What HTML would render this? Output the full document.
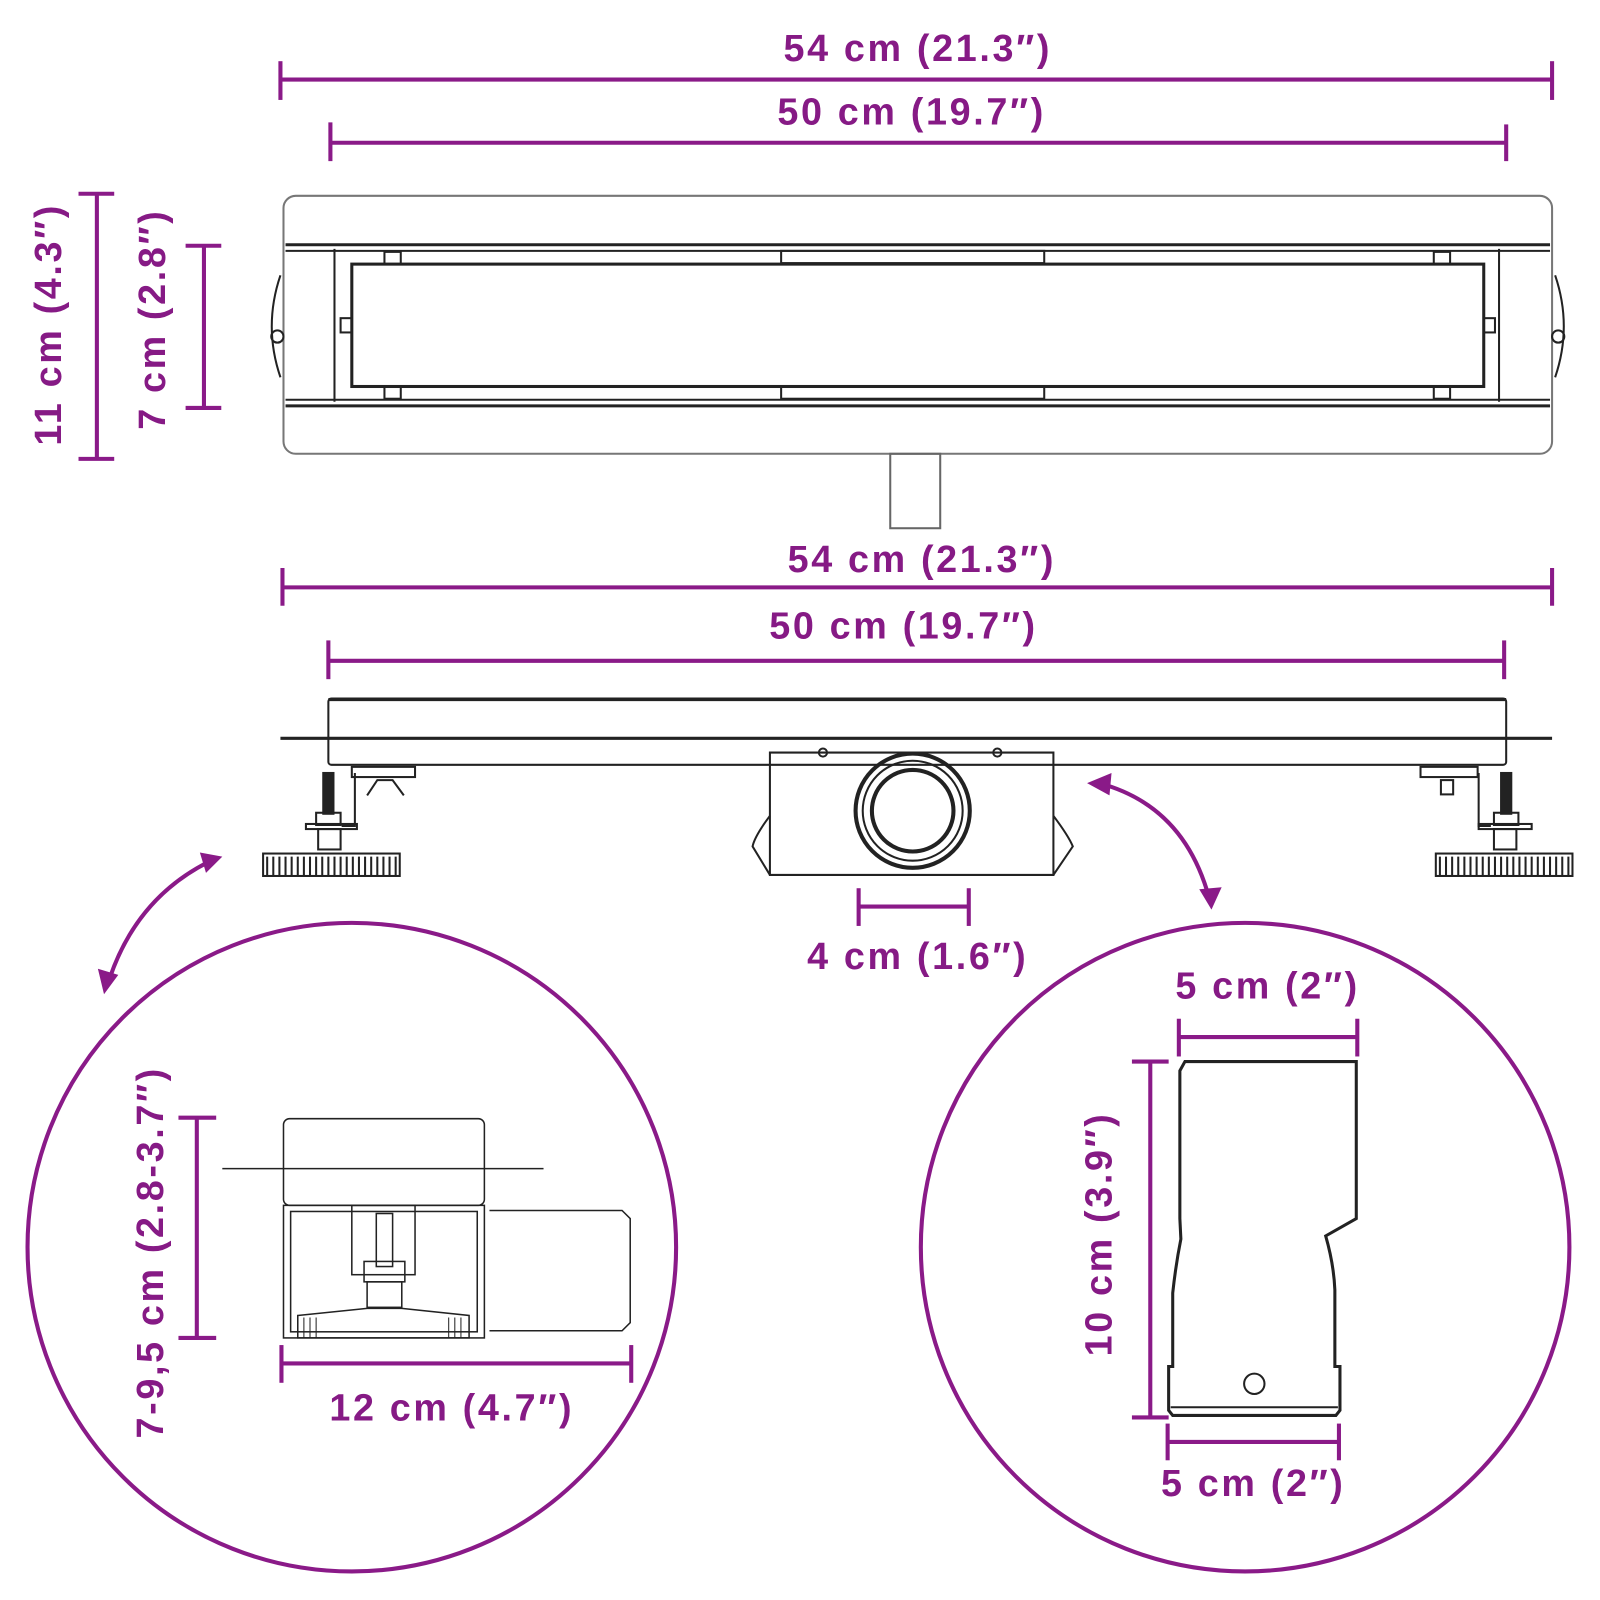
<!DOCTYPE html>
<html><head><meta charset="utf-8"><style>
html,body{margin:0;padding:0;background:#fff;}
svg{display:block}
text{font-family:"Liberation Sans",sans-serif;font-weight:bold;fill:#861a85;font-size:37px;letter-spacing:2.6px;}
</style></head><body>
<svg width="1600" height="1600" viewBox="0 0 1569 1569" xmlns="http://www.w3.org/2000/svg">
<g stroke="#8a1a88" stroke-width="4" fill="none">
 <line x1="275" y1="78" x2="1522" y2="78"/><line x1="275" y1="60" x2="275" y2="98"/><line x1="1522" y1="60" x2="1522" y2="98"/>
 <line x1="324" y1="140" x2="1477" y2="140"/><line x1="324" y1="120" x2="324" y2="158"/><line x1="1477" y1="122" x2="1477" y2="158"/>
 <line x1="95" y1="190" x2="95" y2="450"/><line x1="77" y1="190" x2="112" y2="190"/><line x1="77" y1="450" x2="112" y2="450"/>
 <line x1="200" y1="241" x2="200" y2="400"/><line x1="182" y1="241" x2="217" y2="241"/><line x1="182" y1="400" x2="217" y2="400"/>
 <line x1="277" y1="576" x2="1522" y2="576"/><line x1="277" y1="557" x2="277" y2="594"/><line x1="1522" y1="557" x2="1522" y2="594"/>
 <line x1="322" y1="648" x2="1475" y2="648"/><line x1="322" y1="628" x2="322" y2="666"/><line x1="1475" y1="628" x2="1475" y2="666"/>
 <line x1="842" y1="889" x2="950" y2="889"/><line x1="842" y1="871" x2="842" y2="908"/><line x1="950" y1="871" x2="950" y2="908"/>
 <circle cx="345" cy="1223" r="318"/>
 <circle cx="1221" cy="1223" r="318"/>
 <line x1="193" y1="1096" x2="193" y2="1312"/><line x1="175" y1="1096" x2="212" y2="1096"/><line x1="175" y1="1312" x2="212" y2="1312"/>
 <line x1="276" y1="1337" x2="619" y2="1337"/><line x1="276" y1="1319" x2="276" y2="1356"/><line x1="619" y1="1319" x2="619" y2="1356"/>
 <line x1="1156" y1="1017" x2="1331" y2="1017"/><line x1="1156" y1="999" x2="1156" y2="1036"/><line x1="1331" y1="999" x2="1331" y2="1036"/>
 <line x1="1128" y1="1041" x2="1128" y2="1390"/><line x1="1110" y1="1041" x2="1146" y2="1041"/><line x1="1110" y1="1390" x2="1146" y2="1390"/>
 <line x1="1145" y1="1414" x2="1313" y2="1414"/><line x1="1145" y1="1396" x2="1145" y2="1432"/><line x1="1313" y1="1396" x2="1313" y2="1432"/>
 <path d="M205 845 Q135 880 108 958"/>
 <path d="M1078 768 Q1160 790 1185 878"/>
</g>
<g fill="#8a1a88">
 <polygon points="218,840 196,836 202,856"/>
 <polygon points="102,975 96,950 116,956"/>
 <polygon points="1066,768 1090,758 1088,780"/>
 <polygon points="1188,892 1176,872 1198,870"/>
</g>
<text x="900" y="60" text-anchor="middle">54 cm (21.3″)</text>
<text x="894" y="122" text-anchor="middle">50 cm (19.7″)</text>
<text x="904" y="561" text-anchor="middle">54 cm (21.3″)</text>
<text x="886" y="626" text-anchor="middle">50 cm (19.7″)</text>
<text x="900" y="950" text-anchor="middle">4 cm (1.6″)</text>
<text x="1243" y="979" text-anchor="middle">5 cm (2″)</text>
<text x="1229" y="1467" text-anchor="middle">5 cm (2″)</text>
<text x="443" y="1393" text-anchor="middle">12 cm (4.7″)</text>
<text transform="translate(60,318) rotate(-90)" text-anchor="middle">11 cm (4.3″)</text>
<text transform="translate(162,313) rotate(-90)" text-anchor="middle">7 cm (2.8″)</text>
<text transform="translate(160,1228) rotate(-90)" text-anchor="middle">7-9,5 cm (2.8-3.7″)</text>
<text transform="translate(1090,1210) rotate(-90)" text-anchor="middle">10 cm (3.9″)</text>

<g stroke="#222" stroke-width="2" fill="none">
 <rect x="278" y="192" width="1244" height="253" rx="12" stroke="#777"/>
 <line x1="280" y1="240" x2="1520" y2="240" stroke-width="3"/>
 <line x1="280" y1="246" x2="1520" y2="246"/>
 <line x1="280" y1="392" x2="1520" y2="392"/>
 <line x1="280" y1="398" x2="1520" y2="398" stroke-width="3"/>
 <line x1="328" y1="244" x2="328" y2="394"/>
 <line x1="1470" y1="244" x2="1470" y2="394"/>
 <rect x="345" y="259" width="1110" height="120" stroke-width="3"/>
 <rect x="377" y="247" width="16" height="12"/><rect x="1406" y="247" width="16" height="12"/>
 <rect x="377" y="379" width="16" height="12"/><rect x="1406" y="379" width="16" height="12"/>
 <rect x="334" y="312" width="11" height="14"/><rect x="1455" y="312" width="11" height="14"/>
 <rect x="766" y="246" width="258" height="12"/><rect x="766" y="379" width="258" height="12"/>
 <path d="M275 270 Q258 320 275 370"/><path d="M1525 270 Q1542 320 1525 370"/>
 <circle cx="272" cy="330" r="6"/><circle cx="1528" cy="330" r="6"/>
 <rect x="873" y="445" width="49" height="73" stroke="#666"/>
 <rect x="322" y="685" width="1155" height="65" rx="3"/>
 <line x1="322" y1="686" x2="1477" y2="686" stroke-width="3"/>
 <line x1="275" y1="724" x2="1522" y2="724" stroke-width="3"/>
 <path d="M755 738 H1033 V858 H755 Z"/>
 <path d="M755 800 Q740 820 738 830 L755 858"/><path d="M1033 800 Q1048 820 1052 830 L1033 858"/>
 <circle cx="807" cy="738" r="4"/><circle cx="978" cy="738" r="4"/>
 <circle cx="895" cy="795" r="56" stroke-width="4"/>
 <circle cx="895" cy="795" r="49"/>
 <circle cx="895" cy="795" r="40" stroke-width="4"/>
 <rect x="317" y="758" width="10" height="40" fill="#222"/>
 <rect x="310" y="797" width="24" height="12"/><rect x="300" y="808" width="50" height="5"/>
 <rect x="312" y="813" width="22" height="20"/>
 <path d="M348 758 V810 H335"/>
 <rect x="345" y="752" width="62" height="10"/>
 <path d="M360 780 L370 765 H385 L396 780"/>
 <rect x="258" y="837" width="134" height="22"/>
 <path d="M262 840 V858 M268 840 V858 M274 840 V858 M280 840 V858 M286 840 V858 M292 840 V858 M298 840 V858 M304 840 V858 M310 840 V858 M316 840 V858 M322 840 V858 M328 840 V858 M334 840 V858 M340 840 V858 M346 840 V858 M352 840 V858 M358 840 V858 M364 840 V858 M370 840 V858 M376 840 V858 M382 840 V858 M388 840 V858"/>
 <rect x="1472" y="758" width="10" height="40" fill="#222"/>
 <rect x="1465" y="797" width="24" height="12"/><rect x="1450" y="808" width="52" height="5"/>
 <rect x="1465" y="813" width="22" height="20"/>
 <path d="M1450 758 V810 H1462"/>
 <rect x="1393" y="752" width="56" height="10"/>
 <rect x="1413" y="765" width="12" height="14"/>
 <rect x="1408" y="837" width="134" height="22"/>
 <path d="M1412 840 V858 M1418 840 V858 M1424 840 V858 M1430 840 V858 M1436 840 V858 M1442 840 V858 M1448 840 V858 M1454 840 V858 M1460 840 V858 M1466 840 V858 M1472 840 V858 M1478 840 V858 M1484 840 V858 M1490 840 V858 M1496 840 V858 M1502 840 V858 M1508 840 V858 M1514 840 V858 M1520 840 V858 M1526 840 V858 M1532 840 V858 M1538 840 V858"/>
 <rect x="278" y="1097" width="197" height="85" rx="6" stroke-width="1.5"/>
 <line x1="218" y1="1146" x2="533" y2="1146" stroke-width="1.5"/>
 <rect x="278" y="1182" width="197" height="130" stroke-width="1.5"/>
 <rect x="285" y="1188" width="183" height="118" stroke-width="1.5"/>
 <rect x="345" y="1182" width="62" height="68" stroke-width="1.5"/>
 <rect x="369" y="1190" width="16" height="52" stroke-width="1.5"/>
 <rect x="357" y="1237" width="40" height="20" stroke-width="1.5"/>
 <rect x="360" y="1257" width="34" height="25" stroke-width="1.5"/>
 <path d="M292 1290 L360 1283 H394 L460 1290 V1312 H292 Z" stroke-width="1.5"/>
 <path d="M298 1292 V1312 M304 1292 V1312 M310 1292 V1312 M440 1292 V1312 M446 1292 V1312 M452 1292 V1312" stroke-width="1"/>
 <path d="M480 1187 H610 L618 1195 V1297 L610 1305 H480" stroke-width="1.5"/>
 <path d="M1162 1041 H1330 V1195 L1300 1212 Q1308 1240 1309 1265 V1340 H1314 V1383 L1310 1388 H1150 L1146 1383 V1340 H1150 V1268 Q1153 1240 1158 1215 L1157 1195 V1050 Z" stroke-width="3"/>
 <line x1="1148" y1="1380" x2="1312" y2="1380"/>
 <circle cx="1230" cy="1357" r="10"/>
</g>
</svg>
</body></html>
